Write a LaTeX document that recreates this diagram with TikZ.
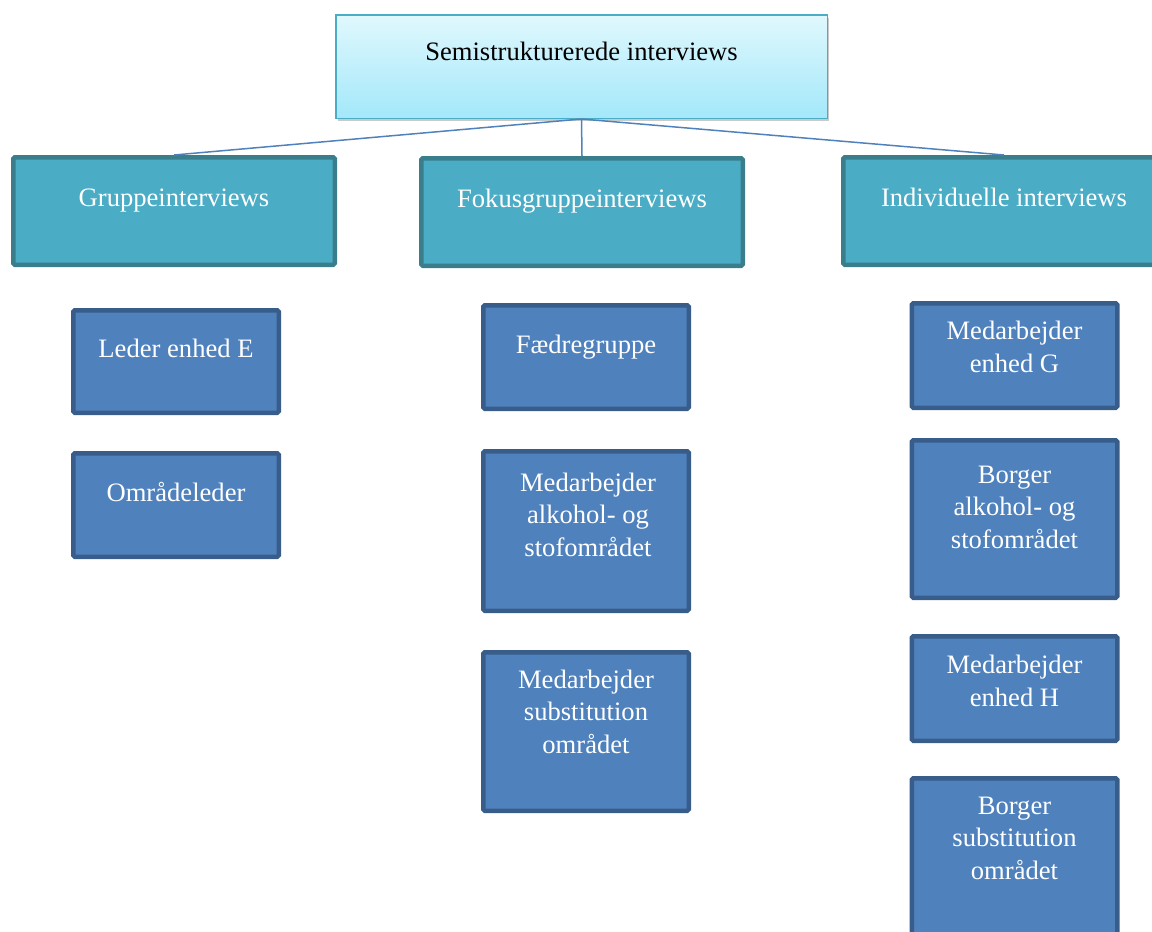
\documentclass[tikz,border=0pt]{standalone}
\usepackage{fontspec}
\setmainfont{Liberation Serif}
\usetikzlibrary{shadows}
\definecolor{topfillA}{HTML}{E0F8FD}
\definecolor{topfillB}{HTML}{A3E8FA}
\definecolor{topline}{HTML}{4BACC6}
\definecolor{tealfill}{HTML}{4BACC6}
\definecolor{tealline}{HTML}{3A7E8C}
\definecolor{bluefill}{HTML}{4F81BD}
\definecolor{blueline}{HTML}{385D8A}
\definecolor{connc}{HTML}{4F81BD}
\tikzset{
  topbox/.style={rectangle, draw=topline, line width=1.5pt, top color=topfillA, bottom color=topfillB,
    minimum width=491.5pt, minimum height=103.5pt, inner sep=0pt,
    drop shadow={shadow xshift=2pt, shadow yshift=-3pt, opacity=0.35, fill=black!60}},
  tealbox/.style={rectangle, draw=tealline, fill=tealfill, line width=4.5pt, rounded corners=1.5pt,
    minimum width=321.5pt, minimum height=107.5pt, inner sep=0pt},
  bluebox/.style={rectangle, draw=blueline, fill=bluefill, line width=4.5pt, rounded corners=1.5pt,
    minimum width=205.5pt, inner sep=0pt},
  txt/.style={font=\fontsize{26.6}{32.5}\selectfont, align=center, inner sep=0pt,
    text height=18pt, text depth=6pt},
  wtxt/.style={txt, text=white},
  conn/.style={draw=connc, line width=1.5pt}
}
\begin{document}
\begin{tikzpicture}[x=1pt,y=-1pt]
\useasboundingbox (0,0) rectangle (1152,932);
\clip (0,0) rectangle (1152,932);
% top
\node[topbox] (top) at (581.5,66.5) {};
\node[txt] (topt) at (581.5,54) {Semistrukturerede interviews};
% teal
\node[tealbox] (g) at (174,211) {};
\node[tealbox] (f) at (582,212) {};
\node[tealbox] (i) at (1004,211) {};
\node[wtxt] (gt) at (174,200) {Gruppeinterviews};
\node[wtxt] (ft) at (582,201) {Fokusgruppeinterviews};
\node[wtxt] (it) at (1004,200) {Individuelle interviews};
% connectors
\draw[conn] (top.south) -- (g.north);
\draw[conn] (top.south) -- (f.north);
\draw[conn] (top.south) -- (i.north);
% left column
\node[bluebox, minimum height=102.5pt] (l1) at (176,361.5) {};
\node[wtxt] (l1t) at (176,351) {Leder enhed E};
\node[bluebox, minimum height=103.5pt] (l2) at (176,505) {};
\node[wtxt] (l2t) at (176,495) {Områdeleder};
% middle column
\node[bluebox, minimum height=103.5pt] (m1) at (586,357) {};
\node[wtxt] (m1t) at (586,347) {Fædregruppe};
\node[bluebox, minimum height=159.5pt] (m2) at (586,531) {};
\node[wtxt] (m2t) at (588,550) {Medarbejder\\alkohol- og\\stofområdet};
\node[bluebox, minimum height=158.5pt] (m3) at (586,731.5) {};
\node[wtxt] (m3t) at (586,747) {Medarbejder\\substitution\\området};
% right column
\node[bluebox, minimum height=104.5pt] (r1) at (1014.5,355.5) {};
\node[wtxt] (r1t) at (1014.5,366) {Medarbejder\\enhed G};
\node[bluebox, minimum height=157.5pt] (r2) at (1014.5,519) {};
\node[wtxt] (r2t) at (1014.5,542) {Borger\\alkohol- og\\stofområdet};
\node[bluebox, minimum height=104.5pt] (r3) at (1014.5,688.5) {};
\node[wtxt] (r3t) at (1014.5,700) {Medarbejder\\enhed H};
\node[bluebox, minimum height=157.5pt] (r4) at (1014.5,857) {};
\node[wtxt] (r4t) at (1014.5,873) {Borger\\substitution\\området};
\end{tikzpicture}
\end{document}
